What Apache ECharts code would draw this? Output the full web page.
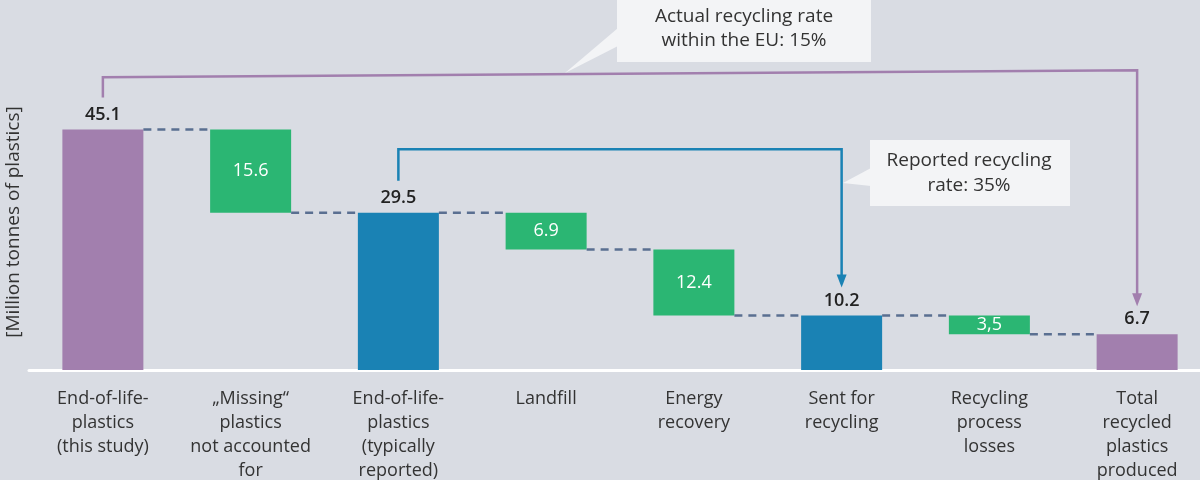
<!DOCTYPE html>
<html>
<head>
<meta charset="utf-8">
<script src="https://cdn.jsdelivr.net/npm/echarts@6/dist/echarts.min.js"></script>
<style>
html,body{margin:0;padding:0;background:#d9dce3;}
#chart{width:1200px;height:480px;}
</style>
</head>
<body>
<div id="chart"></div>
<script>
const categories = [
  'End-of-life-\nplastics\n(this study)',
  '„Missing“\nplastics\nnot accounted\nfor',
  'End-of-life-\nplastics\n(typically\nreported)',
  'Landfill',
  'Energy\nrecovery',
  'Sent for\nrecycling',
  'Recycling\nprocess\nlosses',
  'Total\nrecycled\nplastics\nproduced'
];
const barValues = [45.1, 15.6, 29.5, 6.9, 12.4, 10.2, 3.5, 6.7];
const barBases  = [0, 29.5, 0, 22.6, 10.2, 0, 6.7, 0];
const barGroups = ['study', 'loss', 'reported', 'loss', 'loss', 'reported', 'loss', 'study'];
const barLabels = ['45.1', '15.6', '29.5', '6.9', '12.4', '10.2', '3,5', '6.7'];
const connectorLevels = [45.1, 29.5, 29.5, 22.6, 10.2, 10.2, 6.7];
// brackets: [fromIndex, toIndex, topLevelLeft, topLevelRight]
const bracketStudy = [0, 7, 54.9, 56.2];
const bracketReported = [2, 5, 41.4, 41.4];
const yAxisTitle = '[Million tonnes of plastics]';
const calloutActual = 'Actual recycling rate\nwithin the EU: 15%';
const calloutReported = 'Reported recycling\nrate: 35%';

const FONT = '"Open Sans", Roboto, sans-serif';
const palette = { study: '#a27fae', reported: '#1a82b4', loss: '#2bb673' };
const BAR_W = 81;
const barTops = barValues.map((v, i) => v + barBases[i]);

const chart = echarts.init(document.getElementById('chart'));

function bracketSeries(def, color) {
  return {
    type: 'custom',
    silent: true,
    z: 5,
    data: [def],
    renderItem: function (params, api) {
      const from = api.value(0), to = api.value(1);
      const lvlL = api.value(2), lvlR = api.value(3);
      const pFromTop = api.coord([from, barTops[from]]);
      const pToTop = api.coord([to, barTops[to]]);
      const pL = api.coord([from, lvlL]);
      const pR = api.coord([to, lvlR]);
      const startY = pFromTop[1] - 32;
      const tipY = pToTop[1] - 28;
      const headH = 13, headW = 5;
      return {
        type: 'group',
        children: [
          {
            type: 'polyline',
            shape: { points: [[pL[0], startY], [pL[0], pL[1]], [pR[0], pR[1]], [pR[0], tipY - headH + 1]] },
            style: { stroke: color, lineWidth: 2.5, fill: null }
          },
          {
            type: 'polygon',
            shape: { points: [[pR[0] - headW, tipY - headH], [pR[0] + headW, tipY - headH], [pR[0], tipY]] },
            style: { fill: color }
          }
        ]
      };
    }
  };
}

chart.setOption({
  backgroundColor: '#d9dce3',
  animation: false,
  grid: { left: 29, top: 50, width: 1182, height: 320, outerBoundsMode: 'none', containLabel: false },
  xAxis: {
    type: 'category',
    data: categories,
    axisLine: { show: true, lineStyle: { color: '#ffffff', width: 3 } },
    axisTick: { show: false },
    axisLabel: {
      interval: 0, margin: 17, color: '#333333', fontSize: 18, lineHeight: 24,
      fontFamily: FONT, verticalAlign: 'top'
    }
  },
  yAxis: {
    type: 'value', min: 0, max: 60,
    axisLine: { show: false }, axisTick: { show: false },
    axisLabel: { show: false }, splitLine: { show: false }
  },
  series: [
    {
      type: 'bar', stack: 'w', barWidth: BAR_W, silent: true,
      itemStyle: { color: 'rgba(0,0,0,0)' },
      data: barBases
    },
    {
      type: 'bar', stack: 'w', barWidth: BAR_W, silent: true,
      data: barValues.map((v, i) => {
        const g = barGroups[i];
        const isLoss = g === 'loss';
        return {
          value: v,
          itemStyle: { color: palette[g] },
          label: isLoss ? {
            show: true, position: 'inside', color: '#ffffff', fontSize: 18,
            fontWeight: 500, fontFamily: FONT, formatter: barLabels[i]
          } : {
            show: true, position: 'top', distance: 6, color: '#222222', fontSize: 18,
            fontWeight: 600, fontFamily: FONT, formatter: barLabels[i]
          }
        };
      })
    },
    {
      type: 'custom', silent: true, z: 4,
      data: connectorLevels.map((v, i) => [i, v]),
      renderItem: function (params, api) {
        const i = api.value(0), v = api.value(1);
        const p1 = api.coord([i, v]);
        const p2 = api.coord([i + 1, v]);
        return {
          type: 'line',
          shape: { x1: p1[0] + BAR_W / 2, y1: p1[1], x2: p2[0] - BAR_W / 2, y2: p2[1] },
          style: { stroke: '#5a6f91', lineWidth: 2.5, lineDash: [8, 6] }
        };
      }
    },
    bracketSeries(bracketStudy, palette.study),
    bracketSeries(bracketReported, palette.reported)
  ],
  graphic: [
    {
      type: 'text', x: 14, y: 222, rotation: Math.PI / 2,
      style: {
        text: yAxisTitle, x: 0, y: 0, fill: '#333333', font: '19px ' + FONT,
        textAlign: 'center', textVerticalAlign: 'middle', align: 'center', verticalAlign: 'middle'
      }
    },
    { type: 'polygon', z: 10, shape: { points: [[618, 28], [618, 46], [565, 73]] }, style: { fill: '#f3f4f6' } },
    { type: 'rect', z: 10, shape: { x: 617, y: 0, width: 254, height: 62 }, style: { fill: '#f3f4f6' } },
    {
      type: 'text', z: 11, x: 744, y: 29,
      style: {
        text: calloutActual, fill: '#333333', font: '19px ' + FONT, lineHeight: 24,
        textAlign: 'center', textVerticalAlign: 'middle', align: 'center', verticalAlign: 'middle'
      }
    },
    { type: 'polygon', z: 10, shape: { points: [[871, 168], [871, 186], [843, 183]] }, style: { fill: '#f3f4f6' } },
    { type: 'rect', z: 10, shape: { x: 870, y: 140, width: 200, height: 66 }, style: { fill: '#f3f4f6' } },
    {
      type: 'text', z: 11, x: 969, y: 173,
      style: {
        text: calloutReported, fill: '#333333', font: '19px ' + FONT, lineHeight: 25,
        textAlign: 'center', textVerticalAlign: 'middle', align: 'center', verticalAlign: 'middle'
      }
    }
  ]
});
</script>
</body>
</html>
